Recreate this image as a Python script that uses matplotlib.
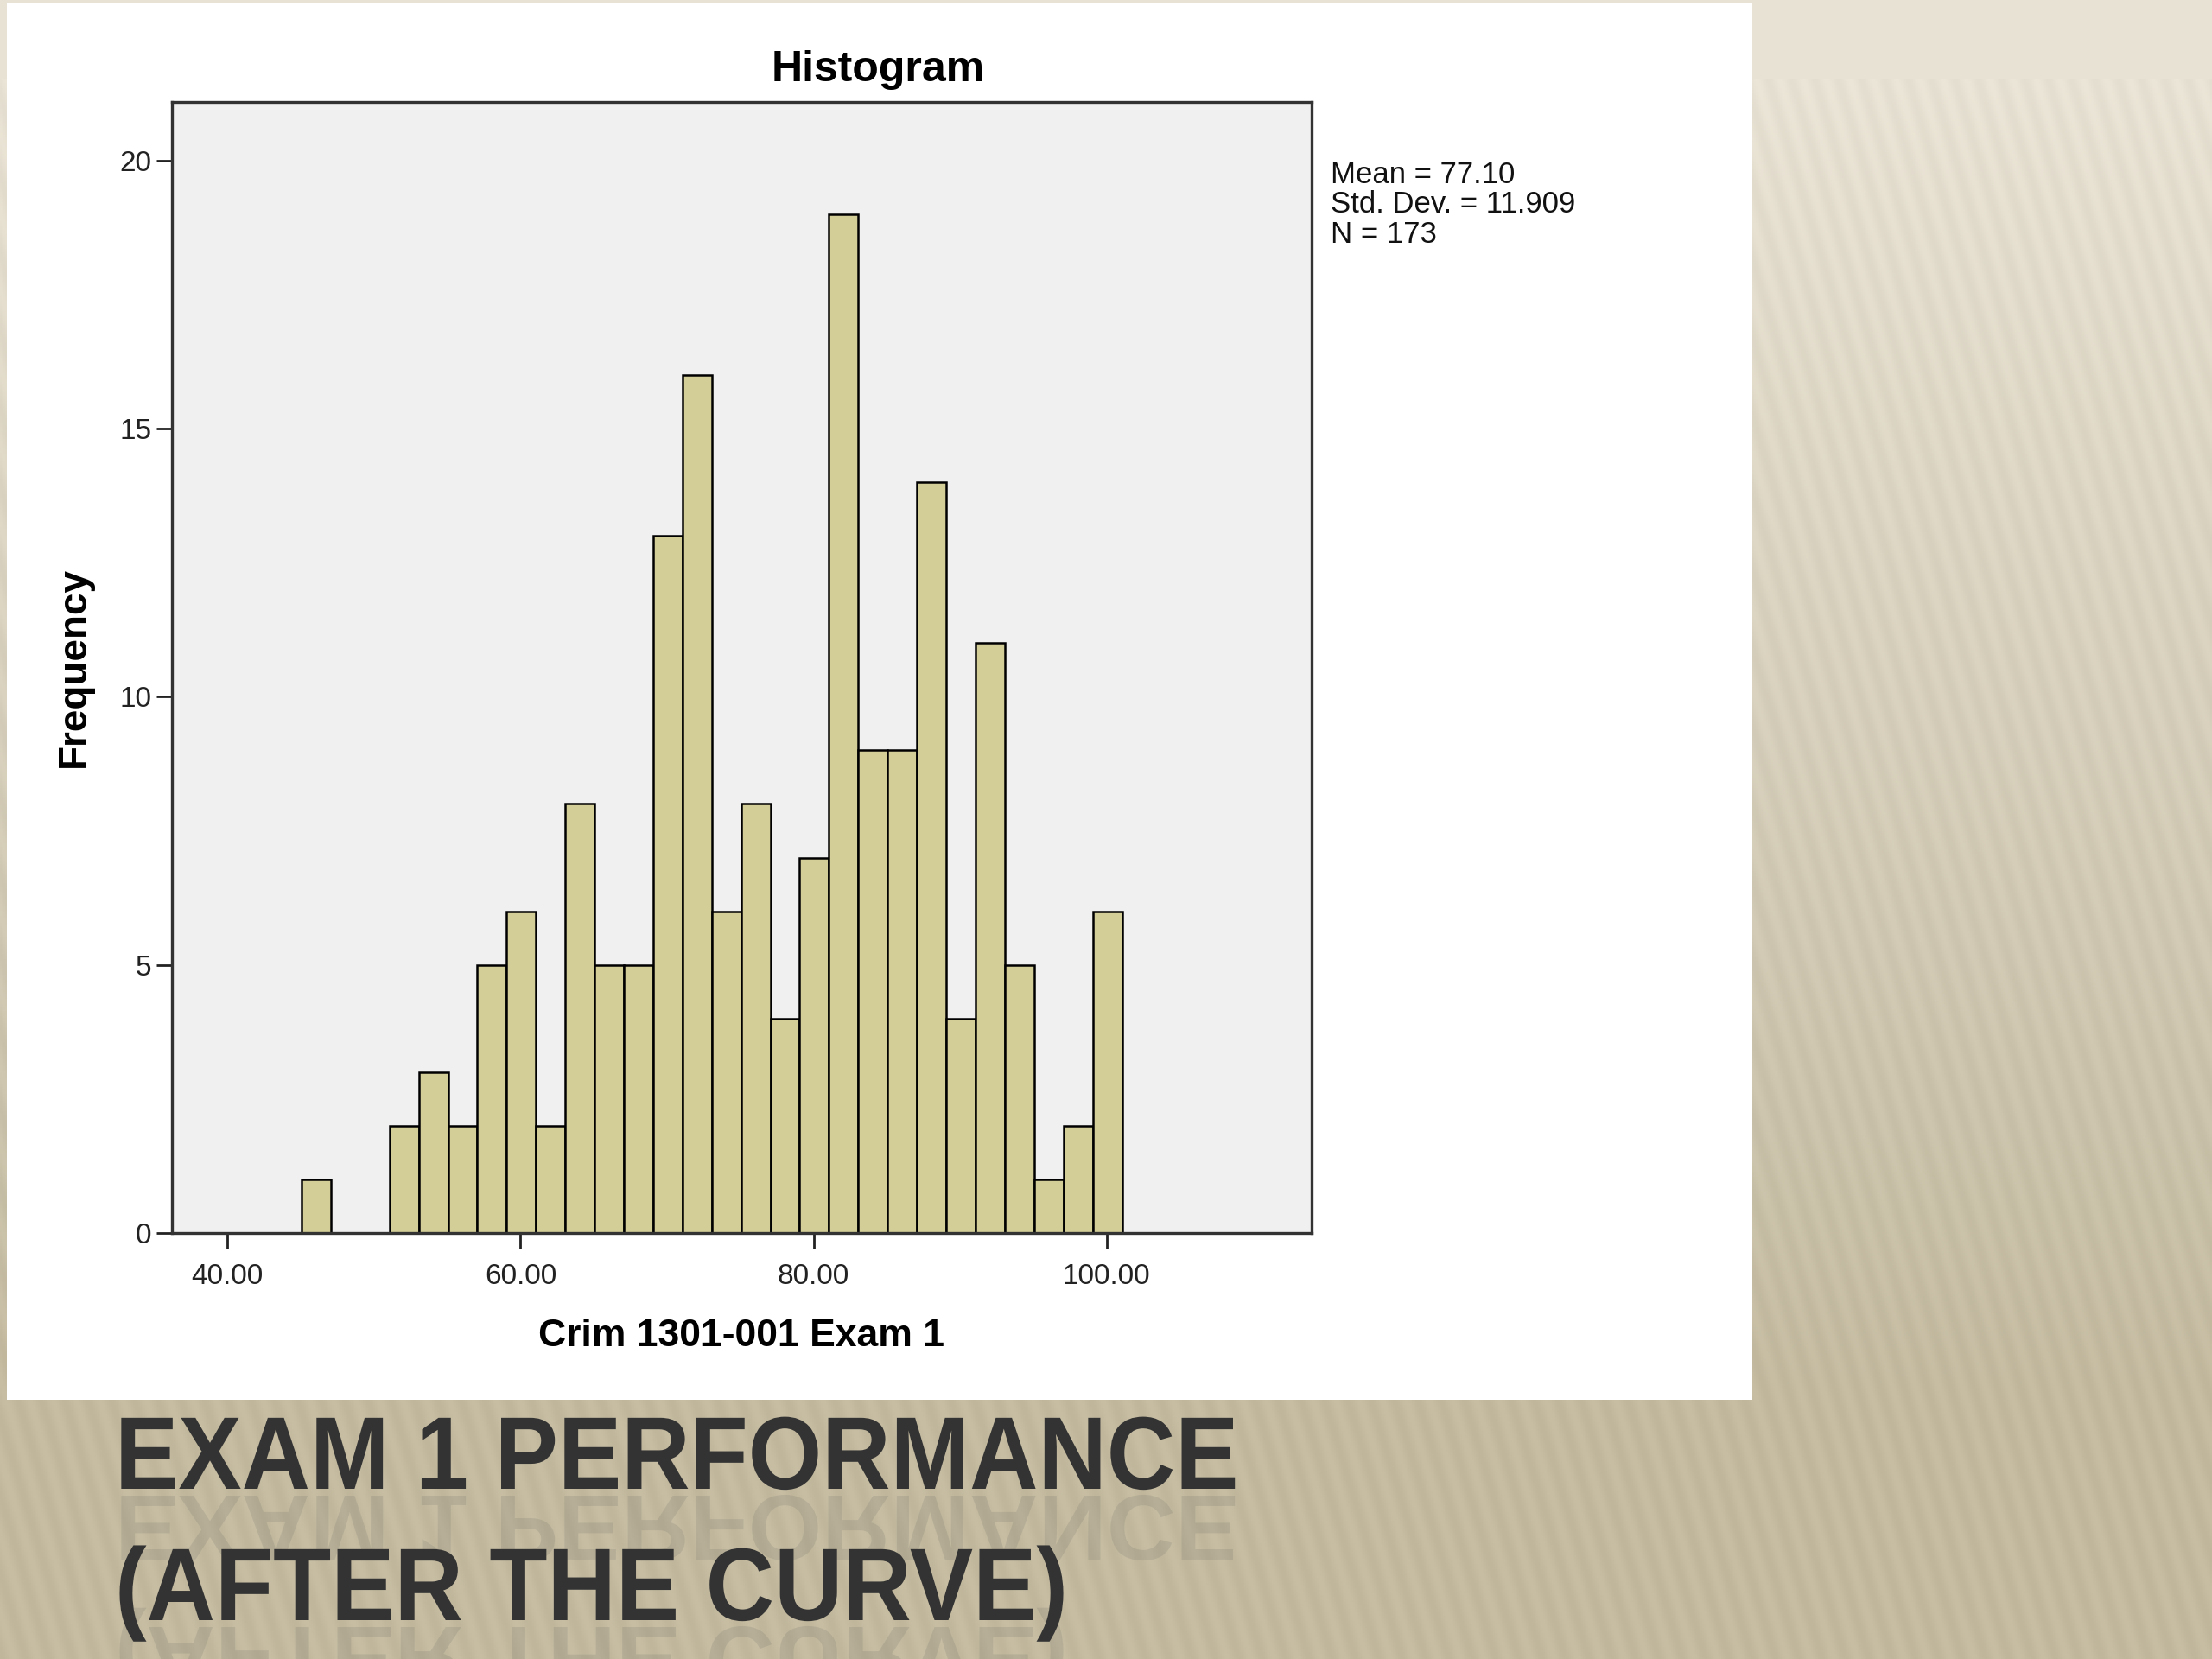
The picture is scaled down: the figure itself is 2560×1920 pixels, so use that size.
import numpy as np
import matplotlib
matplotlib.use("Agg")
import matplotlib.pyplot as plt
from matplotlib.patches import Rectangle, PathPatch
from matplotlib.textpath import TextPath
from matplotlib.font_manager import FontProperties
from matplotlib.transforms import Affine2D, IdentityTransform

# histogram data
bin_start = 45.05
bin_width = 2.0
counts = [1, 0, 0, 2, 3, 2, 5, 6, 2, 8, 5, 5, 13, 16,
          6, 8, 4, 7, 19, 9, 9, 14, 4, 11, 5, 1, 2, 6]
x_ticks = [40, 60, 80, 100]
y_ticks = [0, 5, 10, 15, 20]
stats_lines = ["Mean = 77.10", "Std. Dev. = 11.909", "N = 173"]
chart_title = "Histogram"
x_label = "Crim 1301-001 Exam 1"
y_label = "Frequency"
slide_title = ["EXAM 1 PERFORMANCE", "(AFTER THE CURVE)"]

plt.rcParams['font.family'] = ['Liberation Sans', 'DejaVu Sans']

W, H = 2560, 1920
fig = plt.figure(figsize=(W / 100, H / 100), dpi=100)

# slide background: beige gradient with soft diagonal stripes
yy, xx = np.mgrid[0:H:2, 0:W:2].astype(float)
top = np.array([232, 226, 212]) / 255.0
bot = np.array([195, 186, 160]) / 255.0
t = np.clip((yy - 100) / 1500.0, 0, 1)[..., None]
base = top * (1 - t) + bot * t
stripe = np.sin(2 * np.pi * (xx - 0.3 * yy) / 27.0)
mask = (yy > 90)[..., None]
img = base + mask * (stripe[..., None] * 0.014)
img = np.clip(img, 0, 1)
bg = fig.add_axes([0, 0, 1, 1], zorder=0)
bg.imshow(img, aspect='auto', extent=[0, 1, 0, 1], origin='upper')
bg.set_axis_off()

# white chart panel
fig.patches.append(Rectangle((8 / W, 1 - 1620 / H), (2028 - 8) / W, (1620 - 3) / H,
                             transform=fig.transFigure, facecolor='white',
                             edgecolor='none', zorder=1))

ax = fig.add_axes([0.0777, 0.2568, 0.593 - 0.0777, 0.9388 - 0.2568], zorder=2)
ax.set_facecolor('#f0f0f0')
edges = bin_start + bin_width * np.arange(len(counts) + 1)
ax.hist(edges[:-1], bins=edges, weights=counts, facecolor='#d3ce97',
        edgecolor='black', linewidth=1.8)
ax.set_xlim(36.2, 114.0)
ax.set_ylim(0, 21.1)
ax.set_xticks(x_ticks)
ax.set_xticklabels(["%.2f" % v for v in x_ticks])
ax.set_yticks(y_ticks)
ax.tick_params(axis='both', direction='out', length=13, width=2, color='#222222',
               labelsize=24, labelcolor='#222222')
ax.tick_params(axis='x', pad=12)
ax.tick_params(axis='y', pad=4)
for s in ax.spines.values():
    s.set_linewidth(2.4)
    s.set_color('#333333')

ax.set_xlabel(x_label, fontsize=32, fontweight='bold', labelpad=24)
ax.set_ylabel(y_label, fontsize=33, fontweight='bold', labelpad=22)
fig.text(0.397, 0.958, chart_title, ha='center', va='center', fontsize=36,
         fontweight='bold', zorder=3)
fig.text(0.6015, 1 - 186 / H, "\n".join(stats_lines), ha='left', va='top',
         fontsize=25, linespacing=1.05, color='#111111', zorder=3)

# slide title, slightly condensed, with a faint reflection underneath
fp = FontProperties(family='Liberation Sans', weight='bold', size=86)
sc = 100 / 72.0
xsc = 0.92
baselines = [1723, 1875]
for line, yb in zip(slide_title, baselines):
    x0 = 133
    tp = TextPath((0, 0), line, prop=fp)
    tr = Affine2D().scale(sc * xsc, sc).translate(x0, H - yb)
    fig.patches.append(PathPatch(tr.transform_path(tp), transform=IdentityTransform(),
                                 facecolor='#333333', edgecolor='none', zorder=4))
    rf = Affine2D().scale(sc * xsc, -sc * 0.9).translate(x0, H - yb - 8)
    fig.patches.append(PathPatch(rf.transform_path(tp), transform=IdentityTransform(),
                                 facecolor='#3a3a3a', edgecolor='none', alpha=0.11,
                                 zorder=3))

fig.savefig("out.png", dpi=100)
